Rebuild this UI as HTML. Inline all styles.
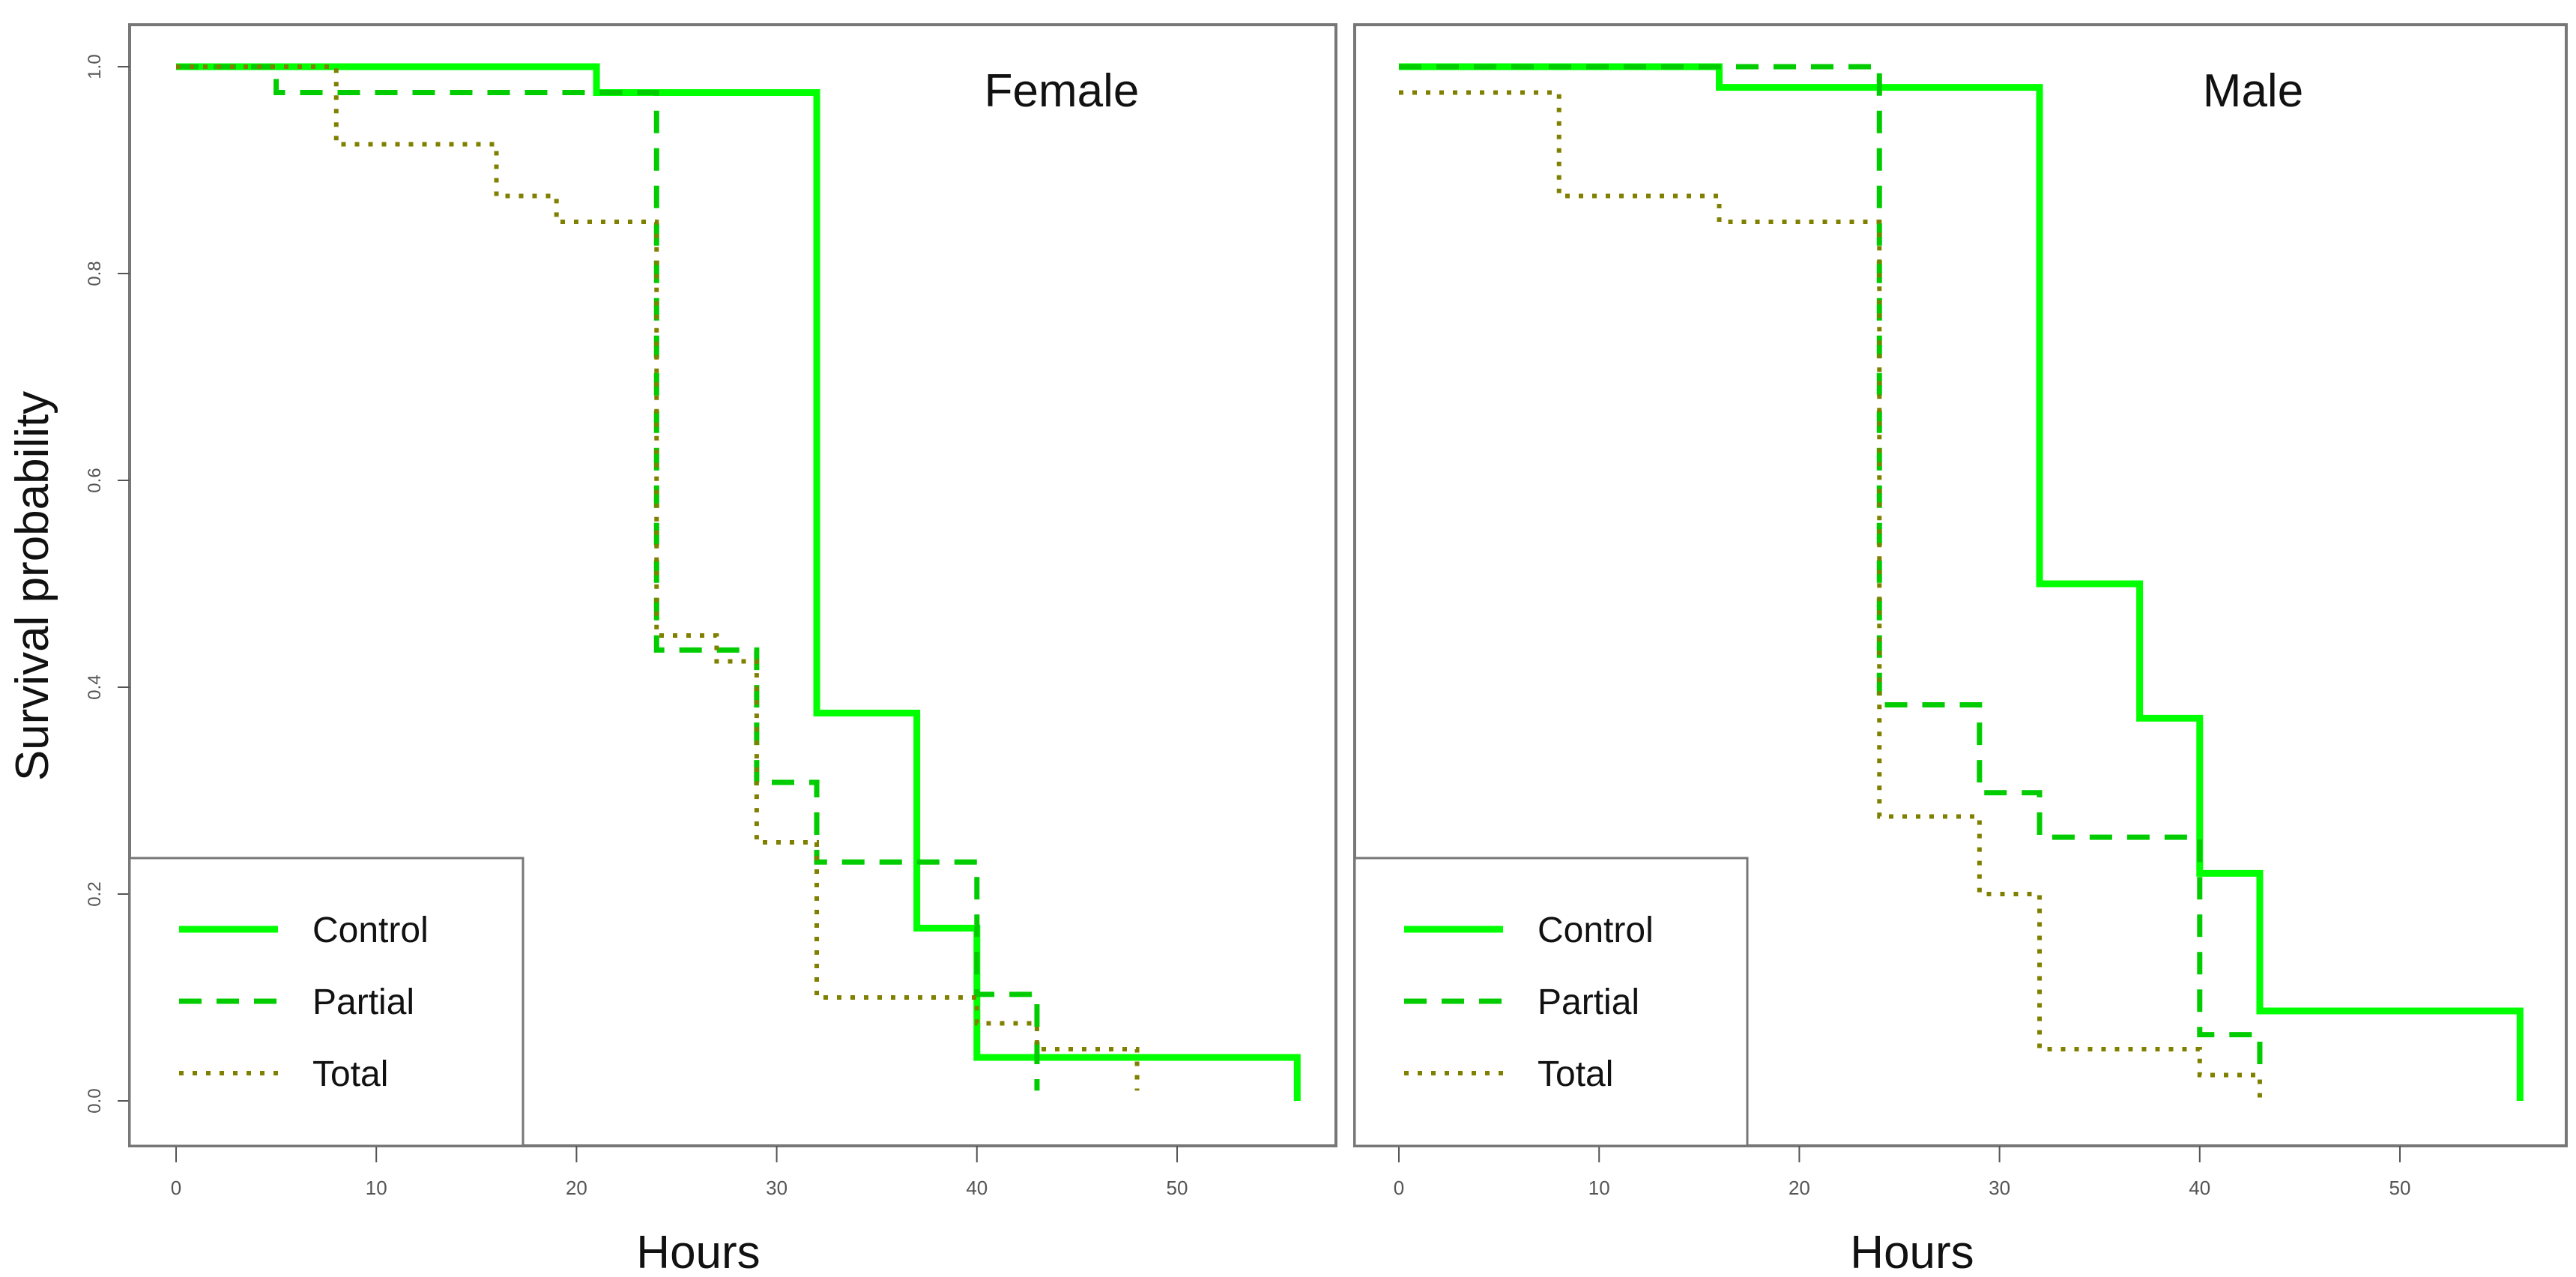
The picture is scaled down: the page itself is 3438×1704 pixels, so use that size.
<!DOCTYPE html>
<html><head><meta charset="utf-8"><style>
html,body{margin:0;padding:0;background:#fff;}
svg{display:block;}
text{font-family:"Liberation Sans",sans-serif;}
</style></head><body>
<svg id="chart" width="3438" height="1704" viewBox="0 0 3438 1704"></svg>
<script>
const hoursTicks = [0,10,20,30,40,50];
const probTicks = ["0.0","0.2","0.4","0.6","0.8","1.0"];
const seriesNames = ["Control","Partial","Total"];
// Female: step times and survival values (value holds from time i until time i+1)
const femaleControlT = [0,21,32,37,40,56];
const femaleControlS = [1.0,0.975,0.375,0.167,0.042,0];
const femalePartialT = [0,5,24,29,32,40,43];
const femalePartialS = [1.0,0.975,0.436,0.308,0.231,0.103,0.01];
const femaleTotalT = [0,8,16,19,24,27,29,32,40,43,48];
const femaleTotalS = [1.0,0.925,0.875,0.85,0.45,0.425,0.25,0.1,0.075,0.05,0.01];
// Male
const maleControlT = [0,16,32,37,40,43,56];
const maleControlS = [1.0,0.98,0.5,0.37,0.22,0.087,0];
const malePartialT = [0,24,29,32,40,43];
const malePartialS = [1.0,0.383,0.298,0.255,0.064,0.025];
const maleTotalT = [0,8,16,24,29,32,40,43];
const maleTotalS = [0.975,0.875,0.85,0.275,0.2,0.05,0.025,0];

const NS="http://www.w3.org/2000/svg";
const svg=document.getElementById('chart');
function mk(tag,attrs,parent){const e=document.createElementNS(NS,tag);for(const k in attrs)e.setAttribute(k,attrs[k]);(parent||svg).appendChild(e);return e;}

const styles={
 Control:{stroke:"#00ff00",w:9,dash:""},
 Partial:{stroke:"#00cc00",w:7,dash:"30 20"},
 Total:{stroke:"#808000",w:6,dash:"6 12"}
};

const panels=[
 {name:"female",title:"Female",left:173,right:1783,top:33,bottom:1529,x0:235,titleX:1417,legRight:698,legTop:1145,hoursX:932,
  yLabels:true,data:[[femaleControlT,femaleControlS],[femalePartialT,femalePartialS],[femaleTotalT,femaleTotalS]]},
 {name:"male",title:"Male",left:1808,right:3425,top:33,bottom:1529,x0:1867,titleX:3007,legRight:2332,legTop:1145,hoursX:2552,
  yLabels:false,data:[[maleControlT,maleControlS],[malePartialT,malePartialS],[maleTotalT,maleTotalS]]}
];
const pxPerHour=26.72, yTop=89, yBot=1469;
function Y(v){return yBot-(yBot-yTop)*v;}

panels.forEach(p=>{
 const g=mk('g',{});
 
 
 const X=t=>p.x0+pxPerHour*t;
 const fr=mk('rect',{x:p.left,y:p.top,width:p.right-p.left,height:p.bottom-p.top,fill:"none",stroke:"#777",'stroke-width':4},g);
 
 
 hoursTicks.forEach(h=>{
  const tk=mk('line',{x1:X(h),x2:X(h),y1:p.bottom,y2:p.bottom+22,stroke:"#555",'stroke-width':2},g);
  
  
  const tl=mk('text',{x:X(h),y:1594,'font-size':26,fill:"#555",'text-anchor':'middle'},g);
  tl.textContent=h;
  
  
 });
 if(p.yLabels){
  probTicks.forEach((lab)=>{
   const v=parseFloat(lab);
   const tk=mk('line',{x1:p.left-16,x2:p.left,y1:Y(v),y2:Y(v),stroke:"#555",'stroke-width':2},g);
   
   
   const tl=mk('text',{x:0,y:0,'font-size':24,fill:"#555",'text-anchor':'middle',transform:`translate(134,${Y(v)}) rotate(-90)`},g);
   tl.textContent=lab;
   
   
  });
 }
 p.data.forEach((d,i)=>{
  const [T,S]=d; const st=styles[seriesNames[i]];
  let pts=[];
  for(let k=0;k<T.length;k++){
   if(k>0) pts.push([X(T[k]),Y(S[k-1])]);
   pts.push([X(T[k]),Y(S[k])]);
  }
  const pl=mk('polyline',{points:pts.map(q=>q.join(',')).join(' '),fill:"none",stroke:st.stroke,'stroke-width':st.w,'stroke-dasharray':st.dash},g);
  
  
 });
 const tt=mk('text',{x:p.titleX,y:142,'font-size':62,fill:"#111",'text-anchor':'middle'},g);
 tt.textContent=p.title;
 
 
 const lg=mk('g',{},g);
 
 
 mk('rect',{x:p.left,y:p.legTop,width:p.legRight-p.left,height:p.bottom-p.legTop,fill:"#fff",stroke:"#777",'stroke-width':3},lg);
 const lx=p.left+66;
 seriesNames.forEach((n,i)=>{
  const st=styles[n]; const yy=1240+96*i;
  const ln=mk('line',{x1:lx,x2:lx+132,y1:yy,y2:yy,stroke:st.stroke,'stroke-width':st.w,'stroke-dasharray':st.dash},lg);
  
  
  const tx=mk('text',{x:lx+178,y:yy+17,'font-size':48,fill:"#111"},lg);
  tx.textContent=n;
  
  
 });
 const xt=mk('text',{x:p.hoursX,y:1692,'font-size':62,fill:"#111",'text-anchor':'middle'},g);
 xt.textContent="Hours";
 
 
});
const yt=mk('text',{x:0,y:0,'font-size':62,fill:"#111",'text-anchor':'middle',transform:'translate(64,782) rotate(-90)'});
yt.textContent="Survival probability";


</script>
</body></html>
